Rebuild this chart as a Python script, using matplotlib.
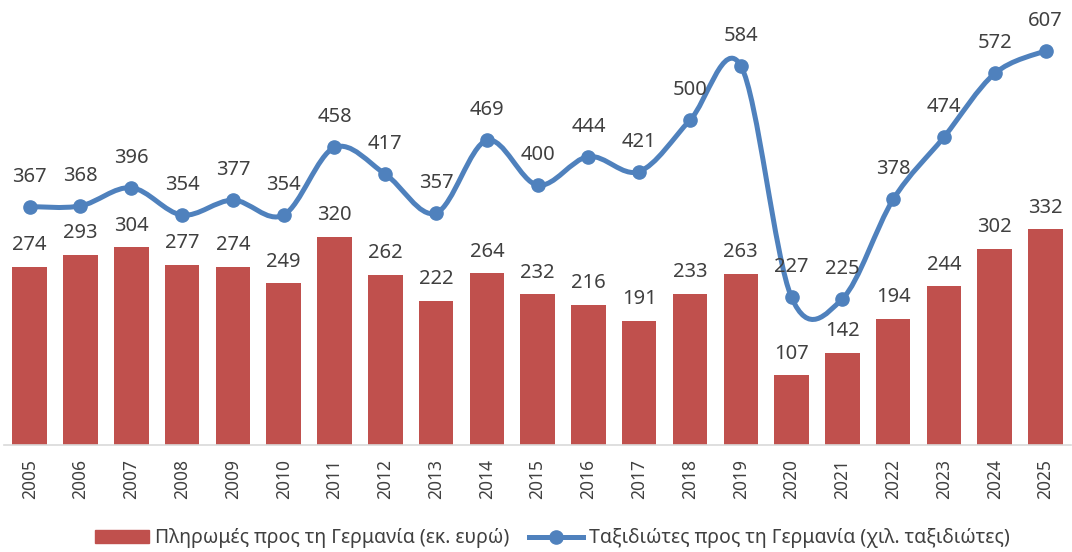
import numpy as np
import matplotlib
matplotlib.use('Agg')
from matplotlib import pyplot as plt
from matplotlib.path import Path
from matplotlib import patches
from matplotlib.lines import Line2D

plt.rcParams['font.family'] = ['Noto Sans', 'DejaVu Sans']

# Data
years = [str(y) for y in range(2005, 2026)]
payments = [274, 293, 304, 277, 274, 249, 320, 262, 222, 264, 232, 216, 191, 233, 263, 107, 142, 194, 244, 302, 332]
travellers = [367, 368, 396, 354, 377, 354, 458, 417, 357, 469, 400, 444, 421, 500, 584, 227, 225, 378, 474, 572, 607]

bar_label = 'Πληρωμές προς τη Γερμανία (εκ. ευρώ)'
line_label = 'Ταξιδιώτες προς τη Γερμανία (χιλ. ταξιδιώτες)'

RED = '#C0504D'
BLUE = '#4F81BD'
TXT = '#404040'

fig = plt.figure(figsize=(10.72, 5.52), dpi=100)
ax = fig.add_axes([0.004, 0.194, 0.995, 0.8])

x = np.arange(len(years))
ax.bar(x, payments, width=0.68, color=RED, zorder=2)

# smoothed line (Excel-like Catmull-Rom bezier through the points)
pts = np.column_stack([x, travellers]).astype(float)
verts = [pts[0]]
codes = [Path.MOVETO]
n = len(pts)
for i in range(n - 1):
    p0 = pts[i - 1] if i > 0 else pts[i]
    p1 = pts[i]
    p2 = pts[i + 1]
    p3 = pts[i + 2] if i + 2 < n else pts[i + 1]
    c1 = p1 + (p2 - p0) / 6.0
    c2 = p2 - (p3 - p1) / 6.0
    verts += [c1, c2, p2]
    codes += [Path.CURVE4] * 3
ax.add_patch(patches.PathPatch(Path(verts, codes), facecolor='none', edgecolor=BLUE,
                               linewidth=3.6, capstyle='round', joinstyle='round', zorder=3))
ax.plot(x, travellers, linestyle='none', marker='o', markersize=9.5, color=BLUE, zorder=4)

for xi, v in zip(x, payments):
    ax.annotate(str(v), (xi, v), xytext=(0, 12), textcoords='offset points',
                ha='center', va='baseline', fontsize=14.5, color=TXT)
for xi, v in zip(x, travellers):
    ax.annotate(str(v), (xi, v), xytext=(0, 18), textcoords='offset points',
                ha='center', va='baseline', fontsize=14.5, color=TXT)

ax.set_xlim(-0.5, len(years) - 0.5)
ax.set_ylim(0, 680)
ax.set_yticks([])
ax.set_xticks(x)
ax.set_xticklabels(years, rotation=90, fontsize=12.5, color=TXT)
ax.tick_params(axis='x', length=0, pad=10)
for s in ['top', 'right', 'left']:
    ax.spines[s].set_visible(False)
ax.spines['bottom'].set_color('#D9D9D9')
ax.spines['bottom'].set_linewidth(1.2)

handles = [patches.Patch(color=RED),
           Line2D([], [], color=BLUE, linewidth=3.6, marker='o', markersize=9.5)]
fig.legend(handles, [bar_label, line_label], loc='center', bbox_to_anchor=(0.515, 0.025),
           ncol=2, frameon=False, fontsize=14, handlelength=2.8, handleheight=0.65,
           columnspacing=1.0, handletextpad=0.3, labelcolor=TXT)

fig.savefig('out.png', dpi=100)
